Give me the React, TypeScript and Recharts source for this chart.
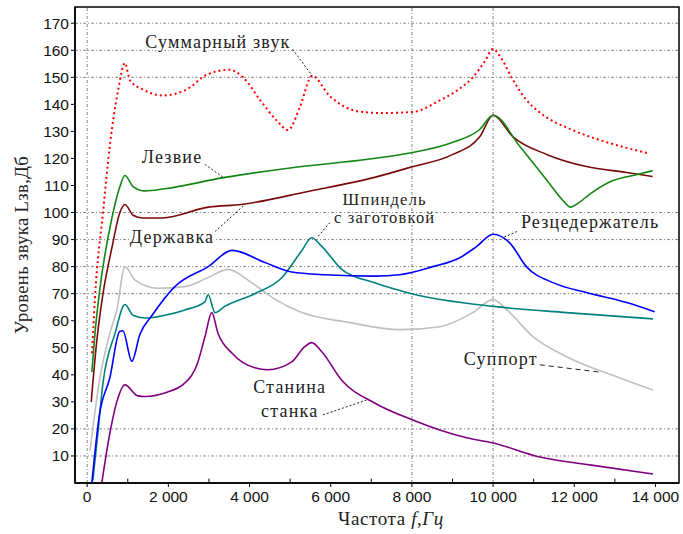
import React from 'react';
import { LineChart, Line, XAxis, YAxis, ReferenceLine, ReferenceArea, ReferenceDot } from 'recharts';

// Frequency (Hz) / level (dB) pairs
const summary = [
  { f: 120, L: 48 }, { f: 190, L: 68 }, { f: 390, L: 100 }, { f: 560, L: 125 }, { f: 760, L: 145 },
  { f: 930, L: 155.3 }, { f: 1050, L: 149 }, { f: 1370, L: 145.5 }, { f: 1865, L: 143.3 },
  { f: 2450, L: 145.5 }, { f: 2950, L: 151 }, { f: 3510, L: 152.8 }, { f: 3840, L: 150 },
  { f: 4260, L: 141.6 }, { f: 4670, L: 134 }, { f: 4950, L: 130.5 }, { f: 5240, L: 139 },
  { f: 5540, L: 150.5 }, { f: 5980, L: 143 }, { f: 6720, L: 137.3 }, { f: 7290, L: 136.8 },
  { f: 8020, L: 137.2 }, { f: 8690, L: 141.5 }, { f: 9100, L: 145 }, { f: 9500, L: 150 },
  { f: 9800, L: 156 }, { f: 10000, L: 160.5 }, { f: 10200, L: 157 }, { f: 10490, L: 149 },
  { f: 10800, L: 142 }, { f: 11150, L: 137 }, { f: 11960, L: 130.5 }, { f: 12800, L: 126 },
  { f: 13800, L: 122 },
];

const blade = [
  { f: 115, L: 41 }, { f: 190, L: 55 }, { f: 315, L: 72 }, { f: 610, L: 98 }, { f: 805, L: 109.5 },
  { f: 930, L: 113.7 }, { f: 1130, L: 109.6 }, { f: 1420, L: 108 }, { f: 1910, L: 108.8 },
  { f: 3390, L: 113 }, { f: 5000, L: 116.5 }, { f: 6960, L: 119.8 }, { f: 7950, L: 122 },
  { f: 9010, L: 126 }, { f: 9670, L: 130.7 }, { f: 10000, L: 136 }, { f: 10660, L: 124.4 },
  { f: 11320, L: 112 }, { f: 11750, L: 104 }, { f: 11900, L: 102 }, { f: 12100, L: 103.5 },
  { f: 12400, L: 107 }, { f: 12870, L: 111.3 }, { f: 13530, L: 114 }, { f: 13930, L: 115.5 },
];

const holder = [
  { f: 100, L: 30 }, { f: 240, L: 53 }, { f: 390, L: 70 }, { f: 610, L: 87 }, { f: 805, L: 100 },
  { f: 930, L: 103 }, { f: 1130, L: 99 }, { f: 1370, L: 98 }, { f: 1850, L: 98 },
  { f: 2980, L: 102 }, { f: 3800, L: 103 }, { f: 5440, L: 107.8 }, { f: 7080, L: 113 },
  { f: 7950, L: 116.7 }, { f: 9010, L: 121.5 }, { f: 9670, L: 128 }, { f: 10000, L: 136 },
  { f: 10490, L: 128 }, { f: 11320, L: 121.5 }, { f: 12300, L: 117 }, { f: 13290, L: 114.8 },
  { f: 13930, L: 113.3 },
];

const toolPost = [
  { f: 115, L: 0 }, { f: 300, L: 25 }, { f: 560, L: 39 }, { f: 800, L: 56 }, { f: 880, L: 56.3 },
  { f: 1100, L: 45 }, { f: 1300, L: 55 }, { f: 1600, L: 62 }, { f: 2160, L: 72.6 },
  { f: 2980, L: 80 }, { f: 3570, L: 86 }, { f: 4380, L: 81.5 }, { f: 5040, L: 78 },
  { f: 5850, L: 77 }, { f: 7080, L: 76.5 }, { f: 7700, L: 77 }, { f: 8520, L: 80 },
  { f: 9180, L: 83.3 }, { f: 9590, L: 87.4 }, { f: 10000, L: 92 }, { f: 10410, L: 88.8 },
  { f: 10820, L: 80 }, { f: 11490, L: 74 }, { f: 12300, L: 70.4 }, { f: 13290, L: 66.7 },
  { f: 13980, L: 63.3 },
];

const spindle = [
  { f: 140, L: 1 }, { f: 240, L: 15 }, { f: 390, L: 37 }, { f: 690, L: 55.5 }, { f: 930, L: 66 },
  { f: 1130, L: 62 }, { f: 1420, L: 61 }, { f: 1910, L: 62 }, { f: 2410, L: 64 }, { f: 2900, L: 67 },
  { f: 2980, L: 69.6 }, { f: 3150, L: 63 }, { f: 3390, L: 65.3 }, { f: 4130, L: 70 },
  { f: 4800, L: 76 }, { f: 5290, L: 86 }, { f: 5530, L: 90.7 }, { f: 5780, L: 87.5 },
  { f: 6270, L: 79 }, { f: 7080, L: 74 }, { f: 7990, L: 70 }, { f: 10000, L: 65.3 },
  { f: 11810, L: 63 }, { f: 13940, L: 60.7 },
];

const support = [
  { f: 70, L: 12 }, { f: 315, L: 39 }, { f: 560, L: 55.5 }, { f: 730, L: 64 }, { f: 930, L: 80 },
  { f: 1180, L: 75 }, { f: 1740, L: 72 }, { f: 2410, L: 72.6 }, { f: 2980, L: 76 },
  { f: 3470, L: 79 }, { f: 4060, L: 74 }, { f: 4620, L: 68 }, { f: 5240, L: 63.3 },
  { f: 6470, L: 59.3 }, { f: 7700, L: 56.7 }, { f: 8690, L: 57.8 }, { f: 9500, L: 63 },
  { f: 10000, L: 67.8 }, { f: 10340, L: 64 }, { f: 10990, L: 54 }, { f: 11810, L: 46.7 },
  { f: 13040, L: 39.3 }, { f: 13940, L: 34.4 },
];

const bed = [
  { f: 360, L: 0 }, { f: 560, L: 18.5 }, { f: 730, L: 30 }, { f: 930, L: 36.3 }, { f: 1250, L: 32.2 },
  { f: 1420, L: 32 }, { f: 1910, L: 33.3 }, { f: 2410, L: 37 }, { f: 2720, L: 44.4 },
  { f: 2900, L: 54 }, { f: 3070, L: 63 }, { f: 3220, L: 55.5 }, { f: 3570, L: 48 },
  { f: 4130, L: 42.6 }, { f: 4450, L: 41.9 }, { f: 5040, L: 44.8 }, { f: 5360, L: 50.4 },
  { f: 5530, L: 51.9 }, { f: 5780, L: 48.5 }, { f: 6270, L: 38 }, { f: 7080, L: 29.6 },
  { f: 8020, L: 23.3 }, { f: 9350, L: 16.7 }, { f: 10000, L: 14.8 }, { f: 11150, L: 9.6 },
  { f: 12380, L: 6.7 }, { f: 13940, L: 3.3 },
];

const xTicks = [0, 2000, 4000, 6000, 8000, 10000, 12000, 14000];
const xMinorTicks = [1000, 3000, 5000, 7000, 9000, 11000, 13000];
const yTicks = [10, 20, 30, 40, 50, 60, 70, 80, 90, 100, 110, 120, 130, 140, 150, 160, 170];
const gridY = [10, 20, 70, 80, 90, 100, 150, 160, 170];
const gridX = [0, 8000, 10000];

// Curve annotations: text lines, anchor of text, leader from -> to (data coords)
const annotations = [
  { lines: ['Суммарный звук'], at: [3220, 163], from: [5060, 160.4], to: [5550, 150.4], size: 18, gap: 0, dash: '2 2' },
  { lines: ['Лезвие'], at: [2090, 120.6], from: [2900, 117.8], to: [3390, 112.6], size: 18, gap: 0, dash: '2 2' },
  { lines: ['Державка'], at: [2090, 91], from: [3150, 93], to: [3890, 103], size: 18, gap: 0, dash: '2 2' },
  { lines: ['Шпиндель', 'с заготовкой'], at: [7330, 101.5], from: [5980, 96.3], to: [5660, 90.7], size: 16.5, gap: 18.5, dash: '2 2' },
  { lines: ['Резцедержатель'], at: [12390, 96.5], from: [10590, 93], to: [10240, 90.7], size: 18, gap: 0, dash: '2 2' },
  { lines: ['Суппорт'], at: [10190, 46], from: [11150, 43.7], to: [12630, 41], size: 18, gap: 0, dash: '5 4' },
  { lines: ['Станина', 'станка'], at: [4990, 31], from: [5810, 25.2], to: [6890, 30.7], size: 18, gap: 24, dash: '2 2' },
];

const serif = '"Liberation Serif", "Times New Roman", serif';
const sans = '"Liberation Sans", Arial, sans-serif';

const fmt = (v: number) => (v >= 1000 ? `${Math.floor(v / 1000)} 000` : String(v));

export default function App() {
  return (
    <div style={{ position: 'absolute', left: 0, top: 0, background: '#fff' }}>
      <LineChart width={683} height={534} margin={{ top: 7, right: 4, left: 35, bottom: 6 }}>
        <XAxis
          type="number"
          dataKey="f"
          domain={[-300, 14580]}
          allowDataOverflow
          ticks={xTicks}
          tickFormatter={fmt}
          tick={{ fontFamily: sans, fontSize: 15.5, fill: '#111' }}
          tickSize={4}
          tickMargin={4}
          axisLine={{ stroke: '#000', strokeWidth: 1.5 }}
          tickLine={{ stroke: '#000' }}
          height={45}
          label={{
            content: (p: any) => {
              const vb = p.viewBox;
              return (
                <text x={vb.x + vb.width / 2 + 14} y={vb.y + 42} textAnchor="middle" fontFamily={serif} fontSize={19} letterSpacing={0.6} fill="#222">
                  Частота <tspan fontStyle="italic">f,Гц</tspan>
                </text>
              );
            },
          }}
        />
        <YAxis
          type="number"
          domain={[0, 176]}
          allowDataOverflow
          ticks={yTicks}
          tick={{ fontFamily: sans, fontSize: 15.5, fill: '#111' }}
          tickSize={4}
          tickMargin={2}
          width={40}
          axisLine={{ stroke: '#000', strokeWidth: 1.5 }}
          tickLine={{ stroke: '#000' }}
          label={{
            content: (p: any) => {
              const vb = p.viewBox;
              const cx = 22;
              const cy = vb.y + vb.height / 2;
              return (
                <text x={cx} y={cy} transform={`rotate(-90 ${cx} ${cy})`} textAnchor="middle" dominantBaseline="central" fontFamily={serif} fontSize={18.5} letterSpacing={0.4} fill="#222">
                  Уровень звука Lзв,Дб
                </text>
              );
            },
          }}
        />
        {gridY.map((v) => (
          <ReferenceLine key={'gy' + v} y={v} stroke="#888" strokeDasharray="3 2 1 2" />
        ))}
        {gridX.map((v) => (
          <ReferenceLine key={'gx' + v} x={v} stroke="#888" strokeDasharray="3 2 1 2" />
        ))}
        {xMinorTicks.map((v) => (
          <ReferenceLine key={'mt' + v} segment={[{ x: v, y: 0 }, { x: v, y: 1.6 }]} stroke="#000" />
        ))}
        <ReferenceArea x1={-300} x2={14580} y1={0} y2={176} fill="none" stroke="#000" strokeWidth={1.5} />

        <Line data={support} dataKey="L" type="monotone" stroke="#c0c0c0" strokeWidth={1.6} dot={false} isAnimationActive={false} />
        <Line data={bed} dataKey="L" type="monotone" stroke="#800080" strokeWidth={1.6} dot={false} isAnimationActive={false} />
        <Line data={spindle} dataKey="L" type="monotone" stroke="#008080" strokeWidth={1.6} dot={false} isAnimationActive={false} />
        <Line data={toolPost} dataKey="L" type="monotone" stroke="#0000ff" strokeWidth={1.6} dot={false} isAnimationActive={false} />
        <Line data={holder} dataKey="L" type="monotone" stroke="#7a0a0a" strokeWidth={1.6} dot={false} isAnimationActive={false} />
        <Line data={blade} dataKey="L" type="monotone" stroke="#138613" strokeWidth={1.6} dot={false} isAnimationActive={false} />
        <Line data={summary} dataKey="L" type="monotone" stroke="#ff0000" strokeWidth={2} strokeDasharray="2 3" dot={false} isAnimationActive={false} />

        {annotations.map((a, i) => (
          <ReferenceLine
            key={'ld' + i}
            segment={[{ x: a.from[0], y: a.from[1] }, { x: a.to[0], y: a.to[1] }]}
            stroke="#222"
            strokeDasharray={a.dash}
          />
        ))}
        {annotations.map((a, i) => (
          <ReferenceDot
            key={'lb' + i}
            x={a.at[0]}
            y={a.at[1]}
            r={0}
            fill="none"
            stroke="none"
            label={{
              content: (p: any) => {
                const vb = p.viewBox;
                const n = a.lines.length;
                return (
                  <g>
                    {a.lines.map((t, j) => (
                      <text
                        key={j}
                        x={vb.x}
                        y={vb.y + (j - (n - 1) / 2) * a.gap}
                        textAnchor="middle"
                        dominantBaseline="central"
                        fontFamily={serif}
                        fontSize={a.size}
                        letterSpacing={1.2}
                        fill="#222"
                        stroke="#fff"
                        strokeWidth={4}
                        paintOrder="stroke"
                      >
                        {t}
                      </text>
                    ))}
                  </g>
                );
              },
            }}
          />
        ))}
      </LineChart>
    </div>
  );
}
